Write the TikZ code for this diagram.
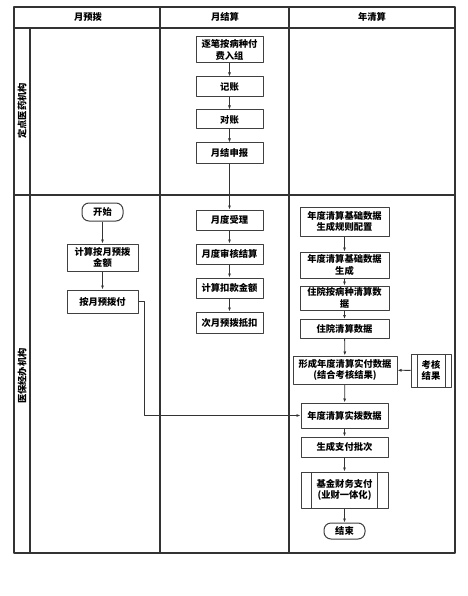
\documentclass[tikz,border=0pt]{standalone}
\usepackage{fontspec}
\newfontfamily\cjk{Noto Sans CJK SC}
\usetikzlibrary{arrows.meta}

\begin{document}
\begin{tikzpicture}[x=1pt, y=-1pt, font=\cjk\bfseries\fontsize{9.3}{11.5}\selectfont, line join=round,
  frame/.style={line width=1.1pt, black!80},
  box/.style={draw=black!75, line width=1pt, fill=white, align=center, inner sep=0pt},
  term/.style={box, rounded corners=7pt},
  pred/.style={box, path picture={\draw[black!75, line width=0.8pt]
      ([xshift=#1pt]path picture bounding box.north west) -- ([xshift=#1pt]path picture bounding box.south west)
      ([xshift=-#1pt]path picture bounding box.north east) -- ([xshift=-#1pt]path picture bounding box.south east);}},
  arr/.style={-{Latex[length=4pt,width=3pt]}, line width=0.8pt, black!80}]
\useasboundingbox (0,0) rectangle (467,596);
% swimlane frame
\draw[frame] (14,7) rectangle (455,553);
\draw[frame] (14,28) -- (455,28);
\draw[frame] (14,195) -- (455,195);
\draw[frame] (30,28) -- (30,553);
\draw[frame] (160,7) -- (160,553);
\draw[frame] (289,7) -- (289,553);
\node (h1) at (88,17) {月预拨};
\node (h2) at (225,17) {月结算};
\node (h3) at (372,17) {年清算};
\node[rotate=90] (l1) at (22,111) {定点医药机构};
\node[rotate=90] (l2) at (22,376) {医保经办机构};

% 月预拨
\node[term, minimum width=41pt, minimum height=18pt] (start) at (102.5,212) {开始};
\node[box, minimum width=71pt, minimum height=27pt] (calc) at (102.5,257.5) {计算按月预拨\\金额};
\node[box, minimum width=71pt, minimum height=23pt] (pay) at (102.5,301.5) {按月预拨付};

% 月结算
\node[box, minimum width=67pt, minimum height=26pt] (group) at (229.5,50) {逐笔按病种付\\费入组};
\node[box, minimum width=67pt, minimum height=20pt] (book) at (229.5,87) {记账};
\node[box, minimum width=67pt, minimum height=19pt] (check) at (229.5,119.5) {对账};
\node[box, minimum width=67pt, minimum height=20pt] (report) at (229.5,153) {月结申报};
\node[box, minimum width=67pt, minimum height=20pt] (accept) at (229.5,220) {月度受理};
\node[box, minimum width=67pt, minimum height=20pt] (audit) at (229.5,254) {月度审核结算};
\node[box, minimum width=67pt, minimum height=20pt] (deduct) at (229.5,288) {计算扣款金额};
\node[box, minimum width=67pt, minimum height=21pt] (offset) at (229.5,322.5) {次月预拨抵扣};

% 年清算
\node[box, minimum width=89pt, minimum height=29pt] (rule) at (344.5,221.5) {年度清算基础数据\\生成规则配置};
\node[box, minimum width=89pt, minimum height=26pt] (base) at (344.5,265) {年度清算基础数据\\生成};
\node[box, minimum width=89pt, minimum height=24pt] (drg) at (344.5,298) {住院按病种清算数\\据};
\node[box, minimum width=89pt, minimum height=19pt] (inpat) at (344.5,329) {住院清算数据};
\node[box, minimum width=104pt, minimum height=28pt] (actual) at (345,370) {形成年度清算实付数据\\(结合考核结果)};
\node[pred=6, minimum width=40pt, minimum height=33pt] (assess) at (431,370.5) {考核\\结果};
\node[box, minimum width=87pt, minimum height=25pt] (alloc) at (344.5,415.5) {年度清算实拨数据};
\node[box, minimum width=87pt, minimum height=20pt] (batch) at (344.5,447) {生成支付批次};
\node[pred=10.5, minimum width=87pt, minimum height=36pt] (fund) at (344.5,490) {基金财务支付\\(业财一体化)};
\node[term, minimum width=41pt, minimum height=16pt] (stop) at (344.5,531) {结束};

% connectors
\draw[arr] (start) -- (calc);
\draw[arr] (calc) -- (pay);
\draw[arr] (pay.east) -- ++(6,0) |- (alloc.west);
\draw[arr] (group) -- (book);
\draw[arr] (book) -- (check);
\draw[arr] (check) -- (report);
\draw[arr] (report) -- (accept);
\draw[arr] (accept) -- (audit);
\draw[arr] (audit) -- (deduct);
\draw[arr] (deduct) -- (offset);
\draw[arr] (rule) -- (base);
\draw[arr] (base) -- (drg);
\draw[arr] (drg) -- (inpat);
\draw[arr] (inpat) -- (actual);
\draw[arr] (assess) -- (actual);
\draw[arr] (actual) -- (alloc);
\draw[arr] (alloc) -- (batch);
\draw[arr] (batch) -- (fund);
\draw[arr] (fund) -- (stop);
\end{tikzpicture}
\end{document}
